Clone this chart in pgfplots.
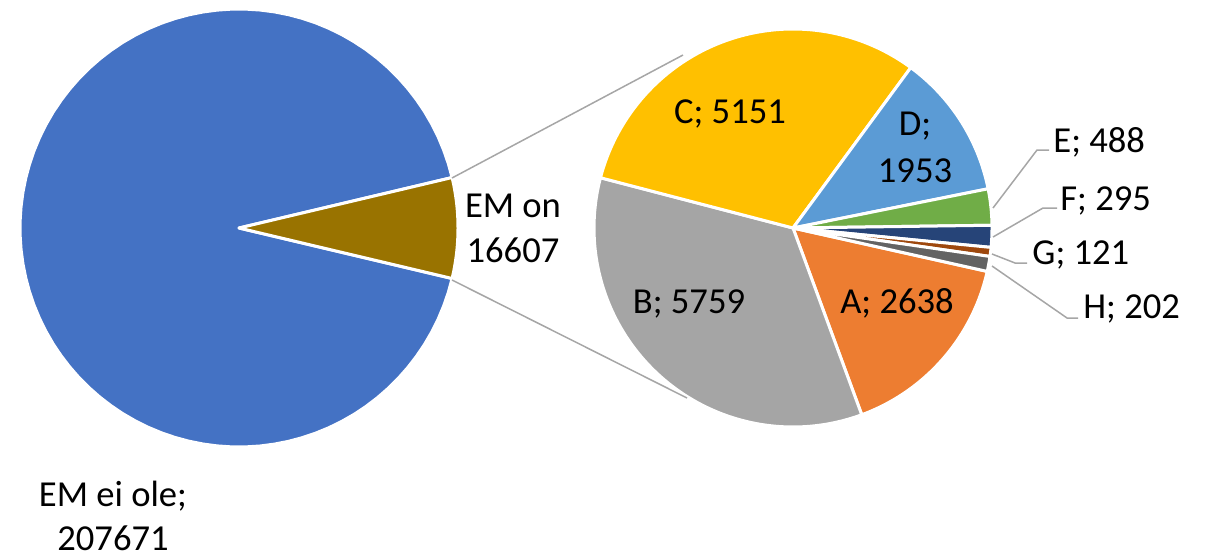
\documentclass[border=0pt]{standalone}
\usepackage{pgfplots}
\pgfplotsset{compat=1.18}
\usepackage{fontspec}
\setmainfont{Carlito}

% Office palette
\definecolor{cMain}{HTML}{4472C4}
\definecolor{cRest}{HTML}{997300}
\definecolor{cA}{HTML}{ED7D31}
\definecolor{cB}{HTML}{A5A5A5}
\definecolor{cC}{HTML}{FFC000}
\definecolor{cD}{HTML}{5B9BD5}
\definecolor{cE}{HTML}{70AD47}
\definecolor{cF}{HTML}{264478}
\definecolor{cG}{HTML}{9E480E}
\definecolor{cH}{HTML}{636363}
\definecolor{lineg}{HTML}{A6A6A6}

% cx, cy, r, from angle, to angle, colour
\newcommand\pieslice[6]{%
  \addplot[fill=#6, draw=white, line width=1.5pt, line join=round,
           domain=#4:#5, samples=90]
    ({#1+#3*cos(x)},{#2+#3*sin(x)}) -- (axis cs:#1,#2) -- cycle;
}

\begin{document}
\begin{tikzpicture}[font=\fontsize{18.3}{23.3}\selectfont]
\begin{axis}[
  width=604pt, height=279.5pt, scale only axis,
  xmin=0, xmax=1208, ymin=0, ymax=559,
  hide axis, clip=false,
]
\addplot[draw=none] coordinates {(0,0) (1208,559)};

% main pie: EM ei ole 207671, EM on 16607 (in thousands to keep TeX in range)
\pgfmathsetmacro\half{16.607/(207.671+16.607)*180}
\pgfmathsetmacro\lo{-\half}
\pgfmathsetmacro\hi{360-\half}
\edef\temp{\noexpand\pieslice{239}{331}{219}{\half}{\hi}{cMain}}\temp
\edef\temp{\noexpand\pieslice{239}{331}{219}{\lo}{\half}{cRest}}\temp

% secondary pie, clockwise from -12.6 degrees
\xdef\cur{-12.6}
\foreach \v/\c in {2638/cA,5759/cB,5151/cC,1953/cD,488/cE,295/cF,121/cG,202/cH}{
  \pgfmathsetmacro\anext{\cur-\v*0.36/16.607}
  \edef\temp{\noexpand\pieslice{793}{331}{199}{\anext}{\cur}{\c}}
  \temp
  \xdef\cur{\anext}
}

% connectors
\addplot[draw=lineg, line width=0.75pt] coordinates {(452,381) (683,504)};
\addplot[draw=lineg, line width=0.75pt] coordinates {(452,279) (687,161)};

% leader lines
\addplot[draw=lineg, line width=0.75pt] coordinates {(993,351) (1037,409) (1049,409)};
\addplot[draw=lineg, line width=0.75pt] coordinates {(993,322) (1043,351) (1057,351)};
\addplot[draw=lineg, line width=0.75pt] coordinates {(992,305) (1015,296) (1027,296)};
\addplot[draw=lineg, line width=0.75pt] coordinates {(992,293) (1067,241) (1078,241)};

% labels
\begin{scope}[every node/.style={inner sep=0pt, anchor=base}]
\node at (axis cs:113,53) {EM ei ole;};
\node at (axis cs:113,9) {207671};
\node at (axis cs:513,342) {EM on};
\node at (axis cs:513,297) {16607};
\node at (axis cs:730,436) {C; 5151};
\node at (axis cs:915,424) {D;};
\node at (axis cs:915,377) {1953};
\node at (axis cs:689,246) {B; 5759};
\node at (axis cs:897,246) {A; 2638};
\node[anchor=base west] at (axis cs:1053,407) {E; 488};
\node[anchor=base west] at (axis cs:1060,349) {F; 295};
\node[anchor=base west] at (axis cs:1032,295) {G; 121};
\node[anchor=base west] at (axis cs:1083,241) {H; 202};
\end{scope}
\end{axis}
\end{tikzpicture}
\end{document}
